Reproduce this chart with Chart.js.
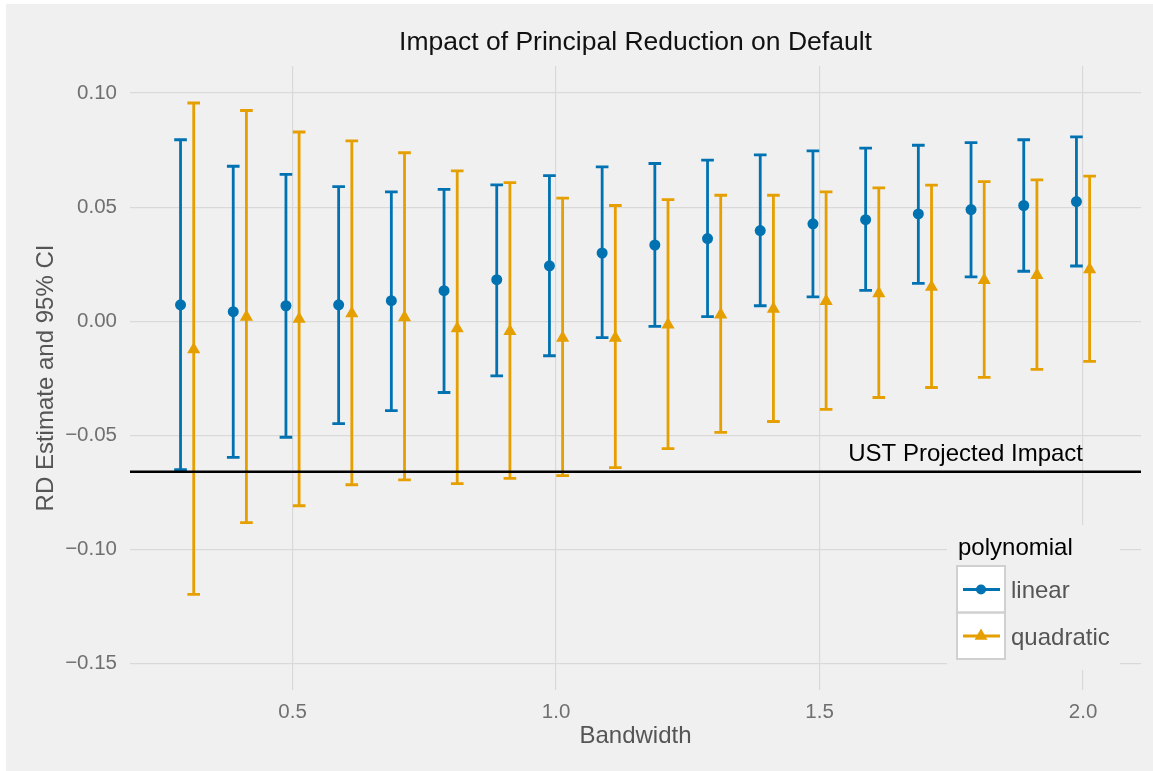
<!DOCTYPE html>
<html>
<head>
<meta charset="utf-8">
<script src="https://cdn.jsdelivr.net/npm/chart.js@4.4.1/dist/chart.umd.min.js"></script>
<style>
html,body{margin:0;padding:0;background:#ffffff;}
#wrap{position:absolute;left:0;top:0;width:1153px;height:771px;}
</style>
</head>
<body>
<div id="wrap"><canvas id="c" width="1153" height="771"></canvas></div>
<script>
// ---- data ----
const bandwidth = [0.3,0.4,0.5,0.6,0.7,0.8,0.9,1.0,1.1,1.2,1.3,1.4,1.5,1.6,1.7,1.8,1.9,2.0];
const linearEst = [0.0072,0.0042,0.0068,0.0072,0.0090,0.0134,0.0182,0.0243,0.0299,0.0334,0.0362,0.0397,0.0427,0.0445,0.0470,0.0489,0.0507,0.0524];
const linearLo  = [-0.0650,-0.0596,-0.0508,-0.0448,-0.0391,-0.0312,-0.0239,-0.0151,-0.0072,-0.0022,0.0020,0.0068,0.0107,0.0135,0.0166,0.0194,0.0219,0.0242];
const linearHi  = [0.0795,0.0679,0.0643,0.0590,0.0567,0.0578,0.0597,0.0638,0.0676,0.0691,0.0706,0.0729,0.0746,0.0758,0.0771,0.0782,0.0795,0.0808];
const quadEst = [-0.0124,0.0019,0.0010,0.0034,0.0017,-0.0032,-0.0044,-0.0073,-0.0073,-0.0015,0.0029,0.0054,0.0088,0.0122,0.0150,0.0180,0.0202,0.0227];
const quadLo  = [-0.1196,-0.0882,-0.0808,-0.0716,-0.0695,-0.0711,-0.0688,-0.0676,-0.0641,-0.0558,-0.0487,-0.0439,-0.0386,-0.0334,-0.0290,-0.0246,-0.0211,-0.0176];
const quadHi  = [0.0956,0.0923,0.0829,0.0790,0.0738,0.0659,0.0607,0.0539,0.0507,0.0533,0.0552,0.0552,0.0567,0.0584,0.0596,0.0612,0.0619,0.0636];
const ustImpact = -0.0659;
const ustLabel = "UST Projected Impact";
const ustLabelX = 2.0;
const seriesNames = ["linear","quadratic"];
const legendTitle = "polynomial";
const chartTitle = "Impact of Principal Reduction on Default";
const xAxisTitle = "Bandwidth";
const yAxisTitle = "RD Estimate and 95% CI";
const xTickValues = [0.5,1.0,1.5,2.0];
const xTickLabels = ["0.5","1.0","1.5","2.0"];
const yTickValues = [0.10,0.05,0.00,-0.05,-0.10,-0.15];
const yTickLabels = ["0.10","0.05","0.00","\u22120.05","\u22120.10","\u22120.15"];

// ---- style ----
const FONT = "'Liberation Sans', Arial, Helvetica, sans-serif";
const BLUE = "#0072B2";
const ORANGE = "#E69F00";
const BG = "#f0f0f0";
const GRID = "#d9d9d9";
const DODGE = 0.0125;
const CAP_HALF = 0.012;

const bgPlugin = {
  id: 'bg',
  beforeDraw(chart) {
    const ctx = chart.ctx;
    ctx.save();
    ctx.fillStyle = '#ffffff';
    ctx.fillRect(0, 0, chart.width, chart.height);
    ctx.fillStyle = BG;
    ctx.fillRect(6, 4, chart.width - 6, chart.height - 4);
    ctx.restore();
  }
};

const errorBarPlugin = {
  id: 'errorbars',
  beforeDatasetsDraw(chart) {
    const ctx = chart.ctx;
    const xs = chart.scales.x, ys = chart.scales.y;
    const series = [
      {lo: linearLo, hi: linearHi, off: -DODGE, color: BLUE},
      {lo: quadLo, hi: quadHi, off: DODGE, color: ORANGE}
    ];
    series.forEach(s => {
      ctx.save();
      ctx.strokeStyle = s.color;
      ctx.lineWidth = 2.8;
      ctx.lineCap = 'butt';
      bandwidth.forEach((b, i) => {
        const px = xs.getPixelForValue(b + s.off);
        const cl = xs.getPixelForValue(b + s.off - CAP_HALF);
        const cr = xs.getPixelForValue(b + s.off + CAP_HALF);
        const yl = ys.getPixelForValue(s.lo[i]);
        const yh = ys.getPixelForValue(s.hi[i]);
        ctx.beginPath();
        ctx.moveTo(px, yl); ctx.lineTo(px, yh);
        ctx.moveTo(cl, yl); ctx.lineTo(cr, yl);
        ctx.moveTo(cl, yh); ctx.lineTo(cr, yh);
        ctx.stroke();
      });
      ctx.restore();
    });
  }
};

const ustPlugin = {
  id: 'ust',
  afterDatasetsDraw(chart) {
    const ctx = chart.ctx;
    const ys = chart.scales.y, xs = chart.scales.x;
    const a = chart.chartArea;
    const py = ys.getPixelForValue(ustImpact);
    ctx.save();
    ctx.strokeStyle = '#000000';
    ctx.lineWidth = 2.5;
    ctx.beginPath();
    ctx.moveTo(a.left, py); ctx.lineTo(a.right, py);
    ctx.stroke();
    ctx.fillStyle = '#000000';
    ctx.font = "24px " + FONT;
    ctx.textAlign = 'right';
    ctx.textBaseline = 'alphabetic';
    ctx.fillText(ustLabel, xs.getPixelForValue(ustLabelX), py - 11);
    ctx.restore();
  }
};

const legendPlugin = {
  id: 'customLegend',
  afterDraw(chart) {
    const ctx = chart.ctx;
    const a = chart.chartArea;
    const bx = a.right - 194, by = a.bottom - 165;
    ctx.save();
    ctx.fillStyle = BG;
    ctx.fillRect(bx, by, 173, 145);
    // title
    ctx.fillStyle = '#000000';
    ctx.font = "24px " + FONT;
    ctx.textAlign = 'left';
    ctx.textBaseline = 'alphabetic';
    ctx.fillText(legendTitle, bx + 11, by + 30);
    // key boxes
    const kx = bx + 10, ky = by + 41, kw = 48, kh = 46.5;
    for (let i = 0; i < 2; i++) {
      ctx.fillStyle = '#ffffff';
      ctx.fillRect(kx, ky + i * kh, kw, kh);
    }
    ctx.strokeStyle = '#d0d0d0';
    ctx.lineWidth = 2;
    ctx.strokeRect(kx, ky, kw, kh);
    ctx.strokeRect(kx, ky + kh, kw, kh);
    const cols = [BLUE, ORANGE];
    for (let i = 0; i < 2; i++) {
      const cy = ky + i * kh + 23.5;
      const cx = kx + kw / 2;
      ctx.strokeStyle = cols[i];
      ctx.lineWidth = 2.8;
      ctx.beginPath();
      ctx.moveTo(kx + 6, cy); ctx.lineTo(kx + kw - 5, cy);
      ctx.stroke();
      ctx.fillStyle = cols[i];
      ctx.beginPath();
      if (i === 0) {
        ctx.arc(cx, cy, 5, 0, Math.PI * 2);
      } else {
        const r = 7.5;
        for (let k = 0; k < 3; k++) {
          const ang = k * 2 * Math.PI / 3;
          const px = cx + Math.sin(ang) * r, py = cy - Math.cos(ang) * r;
          if (k === 0) ctx.moveTo(px, py); else ctx.lineTo(px, py);
        }
        ctx.closePath();
      }
      ctx.fill();
      ctx.fillStyle = '#555555';
      ctx.font = "24px " + FONT;
      ctx.fillText(seriesNames[i], kx + kw + 6, cy + 8.5);
    }
    ctx.restore();
  }
};

const chart = new Chart(document.getElementById('c'), {
  type: 'scatter',
  data: {
    datasets: [
      {
        label: seriesNames[0],
        data: bandwidth.map((b, i) => ({x: b - DODGE, y: linearEst[i]})),
        pointStyle: 'circle',
        pointRadius: 5.5,
        pointBorderWidth: 0,
        backgroundColor: BLUE,
        borderColor: BLUE,
        showLine: false
      },
      {
        label: seriesNames[1],
        data: bandwidth.map((b, i) => ({x: b + DODGE, y: quadEst[i]})),
        pointStyle: 'triangle',
        pointRadius: 7.6,
        pointBorderWidth: 0,
        backgroundColor: ORANGE,
        borderColor: ORANGE,
        showLine: false
      }
    ]
  },
  options: {
    responsive: false,
    animation: false,
    devicePixelRatio: 1,
    layout: {padding: {left: 0, right: 12, top: 0, bottom: 0}},
    plugins: {
      legend: {display: false},
      tooltip: {enabled: false},
      title: {
        display: true,
        fullSize: false,
        text: chartTitle,
        color: '#111111',
        font: {family: FONT, size: 26.5, weight: 'normal'},
        padding: {top: 26.6, bottom: 7.6}
      }
    },
    scales: {
      x: {
        type: 'linear',
        min: 0.1916,
        max: 2.110,
        afterBuildTicks: s => { s.ticks = xTickValues.map(v => ({value: v})); },
        afterFit: s => { s.height = 81; },
        grid: {color: GRID, lineWidth: 1.2, drawTicks: false},
        border: {display: false},
        ticks: {
          padding: 10,
          color: '#707070',
          font: {family: FONT, size: 20.5},
          callback: v => xTickLabels[xTickValues.indexOf(v)]
        },
        title: {
          display: true,
          text: xAxisTitle,
          color: '#555555',
          font: {family: FONT, size: 24},
          padding: {top: 0, bottom: 19.9}
        }
      },
      y: {
        type: 'linear',
        min: -0.1615,
        max: 0.1118,
        afterBuildTicks: s => { s.ticks = yTickValues.map(v => ({value: v})); },
        afterFit: s => { s.width = 130; },
        grid: {color: GRID, lineWidth: 1.2, drawTicks: false},
        border: {display: false},
        ticks: {
          padding: 13,
          color: '#707070',
          font: {family: FONT, size: 20.5},
          callback: v => {
            const i = yTickValues.findIndex(t => Math.abs(t - v) < 1e-9);
            return i >= 0 ? yTickLabels[i] : '';
          }
        },
        title: {
          display: true,
          text: yAxisTitle,
          color: '#555555',
          font: {family: FONT, size: 24},
          padding: {top: 31.6, bottom: 0}
        }
      }
    }
  },
  plugins: [bgPlugin, errorBarPlugin, ustPlugin, legendPlugin]
});
</script>
</body>
</html>
